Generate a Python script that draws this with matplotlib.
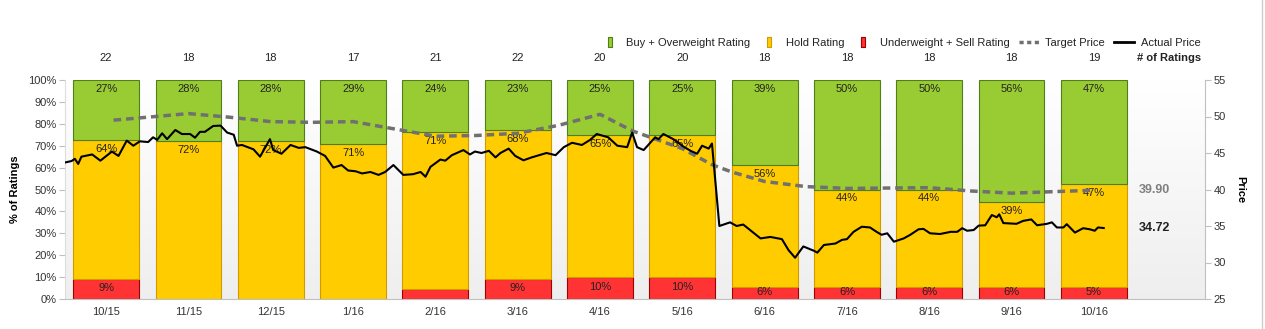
import numpy as np
import matplotlib
matplotlib.use("Agg")
import matplotlib.pyplot as plt
from matplotlib.lines import Line2D
import matplotlib.transforms as mtransforms

plt.rcParams['font.family'] = ['Liberation Sans', 'DejaVu Sans']

# ---- data ----
months = ["10/15", "11/15", "12/15", "1/16", "2/16", "3/16", "4/16",
          "5/16", "6/16", "7/16", "8/16", "9/16", "10/16"]
n_ratings = [22, 18, 18, 17, 21, 22, 20, 20, 18, 18, 18, 18, 19]
buy = [6, 5, 5, 5, 5, 5, 5, 5, 7, 9, 9, 10, 9]
hold = [14, 13, 13, 12, 15, 15, 13, 13, 10, 8, 8, 7, 9]
sell = [2, 0, 0, 0, 1, 2, 2, 2, 1, 1, 1, 1, 1]

# target price (x in months since 10/15)
target_x = [0.09, 0.5, 1.0, 1.5, 2.0, 2.5, 3.0, 3.5, 4.0, 4.5, 5.0, 5.5, 6.0,
            6.4, 7.0, 7.36, 7.6, 8.0, 8.5, 9.0, 9.5, 10.0, 10.5, 11.0, 11.5, 12.0]
target_p = [49.5, 49.9, 50.4, 49.9, 49.3, 49.2, 49.3, 48.3, 47.3, 47.4, 47.7, 48.8, 50.3,
            48.0, 45.6, 43.4, 42.4, 41.1, 40.4, 40.15, 40.2, 40.25, 39.8, 39.5, 39.7, 39.9]

# actual price (x in months since 10/15)
price_x = [-0.50, -0.42, -0.38, -0.34, -0.30, -0.17, -0.07, 0.07, 0.15, 0.25, 0.33, 0.41,
           0.51, 0.57, 0.62, 0.68, 0.74, 0.84, 0.92, 1.02, 1.08, 1.14, 1.20, 1.30, 1.39,
           1.47, 1.55, 1.59, 1.65, 1.79, 1.87, 1.99, 2.03, 2.13, 2.24, 2.34, 2.42, 2.56,
           2.66, 2.76, 2.86, 2.94, 3.03, 3.11, 3.21, 3.31, 3.39, 3.49, 3.61, 3.73, 3.82,
           3.88, 3.94, 4.06, 4.12, 4.20, 4.34, 4.42, 4.48, 4.56, 4.65, 4.73, 4.79, 4.89,
           4.97, 5.07, 5.17, 5.35, 5.46, 5.56, 5.66, 5.78, 5.88, 5.96, 6.10, 6.21, 6.33,
           6.39, 6.45, 6.53, 6.67, 6.71, 6.77, 6.89, 7.01, 7.10, 7.18, 7.24, 7.32, 7.36,
           7.45, 7.58, 7.66, 7.74, 7.95, 8.07, 8.21, 8.29, 8.37, 8.47, 8.60, 8.64, 8.72,
           8.86, 8.94, 9.00, 9.08, 9.18, 9.28, 9.36, 9.42, 9.49, 9.57, 9.69, 9.77, 9.87,
           9.93, 10.01, 10.13, 10.26, 10.34, 10.40, 10.46, 10.54, 10.60, 10.68, 10.76,
           10.82, 10.85, 10.90, 11.06, 11.14, 11.24, 11.31, 11.43, 11.49, 11.55, 11.63,
           11.67, 11.77, 11.87, 11.95, 12.01, 12.05, 12.12]
price_p = [43.7, 43.9, 44.2, 43.5, 44.5, 44.8, 43.95, 45.2, 44.6, 46.7, 46.0, 46.6,
           46.5, 47.15, 46.8, 47.7, 46.9, 48.15, 47.6, 47.6, 47.1, 47.9, 47.9, 48.7, 48.75,
           47.8, 47.5, 46.0, 46.1, 45.5, 44.5, 46.9, 45.4, 44.9, 46.1, 45.7, 45.8, 45.2,
           44.6, 43.0, 43.35, 42.6, 42.5, 42.2, 42.4, 42.0, 42.4, 43.35, 42.0, 42.1, 42.4,
           41.75, 43.1, 44.1, 43.95, 44.7, 45.4, 44.8, 45.2, 45.0, 45.3, 44.4, 45.0, 45.6,
           44.6, 44.0, 44.4, 45.0, 44.7, 45.8, 46.4, 46.1, 46.8, 47.6, 47.15, 46.0, 45.8,
           47.8, 45.8, 45.4, 47.15, 46.9, 47.6, 46.9, 45.9, 45.3, 44.9, 46.0, 45.6, 46.3,
           35.0, 35.5, 35.0, 35.2, 33.3, 33.5, 33.2, 31.7, 30.65, 32.2, 31.6, 31.35, 32.4,
           32.6, 33.1, 33.2, 34.2, 34.9, 34.8, 34.2, 33.8, 34.0, 32.85, 33.3, 33.8, 34.55,
           34.6, 34.0, 33.9, 34.2, 34.2, 34.7, 34.35, 34.45, 35.05, 35.1, 36.5,
           36.2, 36.6, 35.4, 35.3, 35.7, 35.9, 35.1, 35.3, 35.5, 34.8, 34.8,
           35.25, 34.1, 34.7, 34.55, 34.35, 34.8, 34.72]

last_target = 39.90
last_price = 34.72

# ---- figure ----
fig = plt.figure(figsize=(12.65, 3.29), dpi=100)
W, H = 1265, 329
ax = fig.add_axes([65 / W, 30 / H, (1205 - 65) / W, (299 - 80) / H])
ax2 = ax.twinx()

x = np.arange(len(months))
n = np.array(n_ratings, float)
p_buy = np.array(buy) / n * 100
p_hold = np.array(hold) / n * 100
p_sell = np.array(sell) / n * 100

# gradient background
grad = np.linspace(1.0, 0.935, 256).reshape(-1, 1)
ax.imshow(np.dstack([grad, grad, grad]), extent=[-0.5, 13.35, 0, 100],
          aspect='auto', zorder=0, origin='upper')

bw = 0.8
ax.bar(x, p_sell, bw, color='#ff3333', edgecolor='#a00000', lw=0.8, zorder=2)
ax.bar(x, p_hold, bw, bottom=p_sell, color='#ffcc00', edgecolor='#d19a00', lw=0.8, zorder=2)
ax.bar(x, p_buy, bw, bottom=p_sell + p_hold, color='#99cc33', edgecolor='#4f7f1a', lw=0.8, zorder=2)

lab = dict(ha='center', va='center', fontsize=8, color='#222222', zorder=3)
for i in x:
    ax.text(i, 100 - 4.1, f"{round(p_buy[i])}%", **lab)
    ax.text(i, p_sell[i] + p_hold[i] - 4.1, f"{round(p_hold[i])}%", **lab)
    if p_sell[i] >= 5:
        ax.text(i, p_sell[i] / 2 + 0.5, f"{round(p_sell[i])}%", **lab)

ax.set_xlim(-0.5, 13.35)
ax.set_ylim(0, 100)
ax.set_yticks(np.arange(0, 101, 10))
ax.set_yticklabels([f"{v}%" for v in range(0, 101, 10)])
ax.set_xticks(x)
ax.set_xticklabels(months)
ax.set_ylabel("% of Ratings", fontsize=8, fontweight='bold', labelpad=6)

ax2.set_ylim(25, 55)
ax2.set_yticks(np.arange(25, 56, 5))
ax2.set_ylabel("Price", fontsize=8, fontweight='bold', rotation=-90, labelpad=14)

ax2.plot(target_x, target_p, color='#707070', lw=2.5, ls=(0, (2.2, 1.4)), zorder=4)
ax2.plot(price_x, price_p, color='black', lw=1.5, zorder=5)
ax2.text(12.54, last_target, f"{last_target:.2f}", ha='left', va='center',
         fontsize=9, fontweight='bold', color='#808080')
ax2.text(12.54, last_price, f"{last_price:.2f}", ha='left', va='center',
         fontsize=9, fontweight='bold', color='#222222')

for a in (ax, ax2):
    for s in a.spines.values():
        s.set_visible(False)
    a.tick_params(labelsize=8, colors='#333333', length=4, color='#c0c0c0',
                  width=0.8, pad=2)
ax.spines['bottom'].set_visible(True)
ax.spines['bottom'].set_color('#c0c0c0')
ax.spines['left'].set_visible(True)
ax.spines['left'].set_color('#dddddd')
ax2.spines['right'].set_visible(True)
ax2.spines['right'].set_color('#c0c0c0')
ax.tick_params(axis='x', length=0, pad=6)

# number of ratings row
trans = mtransforms.blended_transform_factory(ax.transData, fig.transFigure)
for i in x:
    ax.text(i, 1 - 58 / H, str(n_ratings[i]), transform=trans, ha='center',
            va='center', fontsize=8, color='#222222')
fig.text(1201 / W, 1 - 58 / H, "# of Ratings", ha='right', va='center',
         fontsize=8, fontweight='bold', color='#222222')

rect = [(-1, -2), (1, -2), (1, 2), (-1, 2), (-1, -2)]
handles = [
    Line2D([], [], marker=rect, ls='none', markersize=7, markerfacecolor='#99cc33',
           markeredgecolor='#4f7f1a', markeredgewidth=0.8),
    Line2D([], [], marker=rect, ls='none', markersize=7, markerfacecolor='#ffcc00',
           markeredgecolor='#d19a00', markeredgewidth=0.8),
    Line2D([], [], marker=rect, ls='none', markersize=7, markerfacecolor='#ff3333',
           markeredgecolor='#a00000', markeredgewidth=0.8),
    Line2D([], [], color='#707070', lw=2.5, ls=(0, (1.2, 1.0))),
    Line2D([], [], color='black', lw=2),
]
labels = ["Buy + Overweight Rating", "Hold Rating", "Underweight + Sell Rating",
          "Target Price", "Actual Price"]
fig.legend(handles, labels, loc='center right', bbox_to_anchor=(1206 / W, 1 - 43 / H),
           ncol=5, frameon=False, fontsize=8, handlelength=1.8, handletextpad=0.6,
           columnspacing=0.8, borderpad=0, labelcolor='#222222')

fig.add_artist(Line2D([1262 / W, 1262 / W], [0, 1], color='#cccccc', lw=1))

fig.savefig("out.png", dpi=100)
